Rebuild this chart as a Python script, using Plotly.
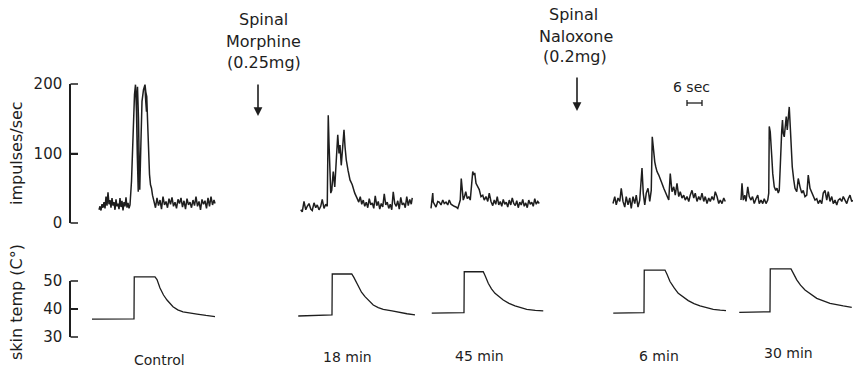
import plotly.graph_objects as go

# ------------------------------------------------------------------
# DATA  (time in seconds relative to heat-stimulus onset of each test)
# ------------------------------------------------------------------
panel_labels = ["Control", "18 min", "45 min", "6 min", "30 min"]

# discharge rate (impulses/sec)
control_rate_t = [-14.0, -13.6, -13.2, -12.8, -12.4, -12.0, -11.6, -11.2, -10.8, -10.4,
                  -10.0, -9.6, -9.2, -8.8, -8.4, -8.0, -7.6, -7.2, -6.8, -6.4,
                  -6.0, -5.6, -5.2, -4.8, -4.4, -4.0, -3.6, -3.2, -2.8, -2.4,
                  -2.0, -1.6, -1.0, -0.4, 0.2, 0.6, 1.0, 1.3, 1.5, 1.7,
                  1.1, 1.0, 1.4, 1.8, 2.1, 2.3, 2.8, 3.2, 3.8, 4.4,
                  4.8, 5.0, 4.7, 4.4, 5.1, 5.4, 5.8, 6.2, 6.6, 7.0,
                  7.4, 7.8, 8.0, 8.6, 9.2, 9.8, 10.4, 11.0, 11.6, 12.2,
                  12.8, 13.4, 14.0, 14.6, 15.2, 15.8, 16.4, 17.0, 17.6, 18.2,
                  18.8, 19.4, 20.0, 20.6, 21.2, 21.8, 22.4, 23.0, 23.6, 24.2,
                  24.8, 25.4, 26.0, 26.6, 27.2, 27.8, 28.4, 29.0, 29.6, 30.2,
                  30.8, 31.4, 32.0, 32.4]
control_rate_v = [19, 24, 18, 27, 22, 30, 21, 38, 25, 44,
                  27, 33, 22, 36, 25, 30, 19, 34, 24, 28,
                  20, 36, 23, 32, 18, 30, 24, 37, 22, 29,
                  21, 26, 60, 140, 185, 199, 160, 100, 55, 45,
                  120, 170, 196, 150, 80, 48, 120, 175, 192, 199,
                  186, 160, 175, 194, 182, 150, 105, 70, 55, 50,
                  40, 32, 30, 22, 36, 25, 33, 20, 38, 26,
                  31, 22, 35, 27, 37, 24, 30, 21, 34, 28,
                  36, 23, 32, 20, 35, 26, 30, 22, 33, 25,
                  38, 24, 31, 19, 34, 27, 32, 21, 36, 24,
                  38, 26, 33, 28]

min18_rate_t = [-12.5, -11.9, -11.2, -10.5, -9.9, -9.2, -8.5, -7.9, -7.2, -6.5,
                -5.9, -5.2, -4.5, -3.9, -3.2, -2.5, -1.9, -1.5, -1.2, -0.8,
                -0.5, -0.1, 0.5, 1.1, 1.9, 2.3, 2.8, 3.2, 3.7, 4.3,
                4.8, 5.2, 5.7, 6.4, 7.2, 8.1, 9.1, 10.1, 10.7, 11.3,
                11.9, 12.5, 13.1, 13.7, 14.3, 14.9, 15.5, 16.1, 16.7, 17.3,
                17.9, 18.5, 19.1, 19.7, 20.3, 20.9, 21.5, 22.1, 22.7, 23.3,
                23.9, 24.5, 25.1, 25.7, 26.3, 26.9, 27.5, 28.1, 28.7, 29.3,
                29.9, 30.5, 31.1, 31.7, 32.1]
min18_rate_v = [19, 16, 31, 19, 24, 28, 20, 18, 29, 22,
                26, 19, 24, 34, 21, 27, 24, 155, 115, 67,
                43, 47, 74, 52, 105, 127, 100, 112, 83, 117,
                134, 110, 91, 76, 62, 55, 43, 35, 30, 38,
                27, 33, 24, 30, 22, 35, 26, 29, 21, 39,
                25, 31, 20, 28, 23, 42, 26, 30, 21, 27,
                19, 45, 28, 24, 32, 20, 37, 26, 29, 22,
                38, 25, 34, 27, 36]

min45_rate_t = [-13.2, -12.5, -12.3, -11.9, -11.2, -10.5, -9.9, -9.2, -8.5, -7.9,
                -7.2, -6.5, -5.9, -5.2, -4.5, -3.9, -3.2, -2.5, -1.9, -1.5,
                -1.1, -0.7, -0.3, 0.2, 0.7, 1.3, 1.9, 2.5, 3.5, 3.9,
                4.3, 4.8, 5.5, 6.1, 6.8, 7.5, 8.1, 8.8, 9.5, 10.1,
                10.8, 11.5, 12.1, 12.7, 13.3, 13.9, 14.5, 15.1, 15.7, 16.3,
                16.9, 17.5, 18.1, 18.7, 19.3, 19.9, 20.5, 21.1, 21.7, 22.3,
                22.9, 23.5, 24.1, 24.7, 25.3, 25.9, 26.5, 27.1, 27.7, 28.3,
                28.9, 29.5, 30.1]
min45_rate_v = [21, 43, 30, 28, 23, 31, 30, 26, 33, 28,
                30, 26, 33, 27, 26, 24, 23, 21, 28, 33,
                64, 48, 33, 38, 45, 35, 38, 33, 74, 69,
                72, 57, 52, 48, 38, 40, 33, 38, 31, 43,
                31, 25, 33, 27, 38, 26, 31, 24, 34, 27,
                30, 23, 33, 26, 36, 28, 25, 32, 22, 30,
                26, 34, 24, 29, 22, 33, 27, 30, 24, 35,
                27, 31, 28]

min6_rate_t = [-12.4, -11.7, -11.1, -10.4, -9.7, -9.1, -8.4, -7.7, -7.1, -6.4,
               -5.7, -5.1, -4.4, -3.7, -3.1, -2.4, -1.7, -0.8, -0.3, 0.3,
               0.9, 1.6, 2.3, 2.9, 3.3, 3.9, 4.3, 4.7, 5.2, 5.9,
               6.5, 7.2, 7.9, 8.5, 9.2, 9.9, 10.5, 11.2, 11.9, 12.5,
               13.2, 13.9, 14.5, 15.2, 15.9, 16.5, 17.2, 17.9, 18.5, 19.2,
               19.9, 20.5, 21.2, 21.9, 22.5, 23.2, 23.9, 24.5, 25.2, 25.9,
               26.5, 27.2, 27.9, 28.5, 29.2, 29.9, 30.5, 31.2, 31.9, 32.5]
min6_rate_v = [28, 38, 26, 36, 31, 50, 31, 23, 38, 26,
               36, 21, 38, 28, 40, 23, 33, 79, 43, 26,
               43, 50, 31, 47, 124, 95, 88, 81, 74, 69,
               62, 57, 50, 45, 38, 33, 71, 45, 52, 40,
               57, 38, 45, 36, 40, 33, 38, 31, 40, 47,
               36, 43, 31, 38, 33, 43, 31, 38, 28, 36,
               31, 38, 33, 45, 38, 28, 33, 28, 36, 31]

min30_rate_t = [-11.6, -11.2, -10.7, -10.1, -9.6, -8.9, -8.3, -7.6, -7.0, -6.3,
                -5.6, -4.9, -4.3, -3.6, -2.9, -2.3, -1.6, -0.9, -0.5, -0.3,
                0.1, 0.4, 0.7, 1.1, 1.7, 2.3, 2.8, 3.3, 3.7, 4.1,
                4.3, 4.7, 5.0, 5.3, 5.7, 6.1, 6.5, 6.9, 7.3, 7.7,
                8.1, 8.5, 8.9, 9.5, 10.0, 10.7, 11.3, 12.0, 12.7, 13.3,
                14.0, 14.7, 15.3, 16.0, 16.7, 17.3, 18.0, 18.7, 19.3, 20.0,
                20.7, 21.3, 22.0, 22.7, 23.3, 24.0, 24.7, 25.3, 26.0, 26.7,
                27.3, 28.0, 28.7, 29.3, 30.0, 30.7, 31.3, 32.0, 32.7, 33.1]
min30_rate_v = [33, 57, 33, 40, 31, 52, 38, 33, 38, 28,
                35, 40, 28, 33, 28, 35, 28, 33, 43, 139,
                131, 119, 96, 71, 52, 47, 50, 43, 47, 81,
                105, 134, 148, 129, 124, 143, 153, 134, 158, 167,
                139, 100, 81, 62, 50, 45, 64, 52, 43, 47,
                38, 40, 69, 50, 43, 38, 33, 35, 28, 33,
                28, 43, 47, 33, 45, 31, 38, 28, 33, 26,
                33, 35, 31, 38, 33, 28, 35, 40, 31, 33]

# skin temperature (deg C)
control_temp_t = [-16.8, 0.0, 0.1, 8.4, 9.2, 10.4, 11.8, 13.2, 15.6, 17.5, 19.6, 22.5, 25.2, 28.8, 32.4]
control_temp_v = [36.4, 36.5, 51.5, 51.5, 50.5, 47.5, 45.0, 43.2, 40.8, 39.7, 39.0, 38.5, 38.2, 37.7, 37.3]
min18_temp_t = [-13.5, 0.0, 0.1, 7.9, 8.8, 10.5, 11.8, 13.2, 16.5, 18.5, 20.5, 24.0, 27.2, 30.0, 33.2]
min18_temp_v = [37.5, 37.9, 52.5, 52.5, 51.2, 48.0, 46.0, 44.4, 41.4, 40.5, 39.9, 39.3, 38.7, 38.3, 37.9]
min45_temp_t = [-12.9, 0.0, 0.1, 7.7, 8.5, 9.7, 11.0, 12.4, 15.7, 18.0, 20.4, 25.1, 28.5, 31.7]
min45_temp_v = [38.5, 38.7, 53.3, 53.3, 51.8, 49.2, 47.2, 45.6, 43.2, 42.0, 41.1, 39.9, 39.5, 39.3]
min6_temp_t = [-12.3, 0.0, 0.1, 8.4, 9.2, 10.4, 12.0, 13.7, 17.7, 20.0, 22.4, 27.7, 30.5, 32.8]
min6_temp_v = [38.5, 38.7, 53.9, 53.9, 52.4, 49.8, 47.6, 45.6, 43.0, 41.9, 41.1, 39.9, 39.6, 39.4]
min30_temp_t = [-12.3, 0.0, 0.1, 8.4, 9.3, 10.7, 12.2, 14.0, 18.7, 21.3, 24.0, 29.3, 32.7]
min30_temp_v = [38.8, 39.0, 54.3, 54.3, 52.8, 50.4, 48.5, 46.8, 43.8, 42.8, 42.0, 41.1, 40.6]

rate_ticks = [0, 100, 200]
temp_ticks = [30, 40, 50]
scale_bar_sec = 6

# ------------------------------------------------------------------
# LAYOUT CONSTANTS (pixels of the 853 x 372 page)
# ------------------------------------------------------------------
W, H = 853, 372
ML = 71
PLOT_W = W - ML
PX_PER_SEC = 2.5
FONT = "DejaVu Sans"
INK = "#1e1e1e"
TICK_LEN = 7

def xs(px):      # page pixel -> seconds on the shared x axis
    return (px - ML) / PX_PER_SEC

def xp(px):      # page pixel -> paper x
    return (px - ML) / PLOT_W

def yp(py):      # page pixel -> paper y
    return (H - py) / H

onset_px = [134, 332, 464, 644, 770]
label_pos = [(159, 360), (347, 357), (479, 356), (659, 356), (788, 353)]

R0_PY, R200_PY = 223, 84
r_ppu = (R0_PY - R200_PY) / 200.0
r_lo, r_hi = -20, 230
T30_PY, T50_PY = 337, 281
t_ppu = (T30_PY - T50_PY) / 20.0
t_lo, t_hi = 28, 58

rates = [(control_rate_t, control_rate_v), (min18_rate_t, min18_rate_v),
         (min45_rate_t, min45_rate_v), (min6_rate_t, min6_rate_v),
         (min30_rate_t, min30_rate_v)]
temps = [(control_temp_t, control_temp_v), (min18_temp_t, min18_temp_v),
         (min45_temp_t, min45_temp_v), (min6_temp_t, min6_temp_v),
         (min30_temp_t, min30_temp_v)]

fig = go.Figure()

fig.add_trace(go.Scatter(x=[], y=[], xaxis="x", yaxis="y", showlegend=False))
fig.add_trace(go.Scatter(x=[], y=[], xaxis="x", yaxis="y2", showlegend=False))

for (t, v), o in zip(rates, onset_px):
    fig.add_trace(go.Scatter(x=[xs(o) + ti for ti in t], y=v, xaxis="x", yaxis="y4",
                             mode="lines", line=dict(color=INK, width=1.5),
                             showlegend=False, hoverinfo="skip"))
for (t, v), o in zip(temps, onset_px):
    fig.add_trace(go.Scatter(x=[xs(o) + ti for ti in t], y=v, xaxis="x", yaxis="y3",
                             mode="lines", line=dict(color=INK, width=1.3),
                             showlegend=False, hoverinfo="skip"))

bracket = dict(showline=True, linecolor=INK, linewidth=1.5, ticks="inside",
               ticklen=TICK_LEN, tickwidth=1.5, tickcolor=INK, showgrid=False,
               zeroline=False, anchor="x", fixedrange=True, automargin=False,
               ticklabelstandoff=4,
               tickfont=dict(family=FONT, size=15, color=INK))

fig.update_layout(
    template="none",
    width=W, height=H,
    margin=dict(l=ML, r=0, t=0, b=0, pad=0, autoexpand=False),
    paper_bgcolor="white", plot_bgcolor="rgba(0,0,0,0)",
    xaxis=dict(range=[0, PLOT_W / PX_PER_SEC], visible=False, domain=[0, 1],
               anchor="y", automargin=False),
    yaxis=dict(range=[0, 200], tickvals=rate_ticks,
               domain=[yp(R0_PY), yp(R200_PY)], **bracket),
    yaxis2=dict(range=[30, 50], tickvals=temp_ticks,
                domain=[yp(T30_PY), yp(T50_PY)], **bracket),
    yaxis3=dict(range=[t_lo, t_hi], visible=False, anchor="x", automargin=False,
                domain=[yp(T30_PY + (30 - t_lo) * t_ppu), yp(T50_PY - (t_hi - 50) * t_ppu)]),
    yaxis4=dict(range=[r_lo, r_hi], visible=False, anchor="x", automargin=False,
                domain=[yp(R0_PY + (0 - r_lo) * r_ppu), yp(R200_PY - (r_hi - 200) * r_ppu)]),
    showlegend=False,
)

ann = []
def text(s, px, py, size=15, angle=0):
    ann.append(dict(text=s, x=xp(px), y=yp(py), xref="paper", yref="paper",
                    showarrow=False, xanchor="center", yanchor="middle",
                    textangle=angle, font=dict(family=FONT, size=size, color=INK)))

for lab, (px, py) in zip(panel_labels, label_pos):
    text(lab, px, py, 14)

text("Spinal", 263, 20, 16)
text("Morphine", 263, 41, 16)
text("(0.25mg)", 264, 63, 16)
text("Spinal", 573, 15, 16)
text("Naloxone", 576, 36, 16)
text("(0.2mg)", 575, 57, 16)
text("6 sec", 691, 87, 14)
text("impulses/sec", 16, 153, 16, -90)
text("skin temp (C°)", 16, 302, 16, -90)

for px, tip, tail in [(258, 116, 83), (577, 111, 76)]:
    ann.append(dict(text="", x=xp(px), y=yp(tip), xref="paper", yref="paper",
                    ax=0, ay=-(tip - tail), showarrow=True, arrowhead=2,
                    arrowsize=1.1, arrowwidth=1.6, arrowcolor=INK))
fig.update_layout(annotations=ann)

bar_x0 = xs(687)
bar_y = yp(103)
cap = 3 / H
line_style = dict(color=INK, width=1.3)
shapes = [
    dict(type="line", xref="x", yref="paper", x0=bar_x0, x1=bar_x0 + scale_bar_sec,
         y0=bar_y, y1=bar_y, line=line_style),
    dict(type="line", xref="x", yref="paper", x0=bar_x0, x1=bar_x0,
         y0=bar_y - cap, y1=bar_y + cap, line=line_style),
    dict(type="line", xref="x", yref="paper", x0=bar_x0 + scale_bar_sec, x1=bar_x0 + scale_bar_sec,
         y0=bar_y - cap, y1=bar_y + cap, line=line_style),
]
# bracket tick marks pointing right (same linear scales as the bracket axes)
tick_sets = [(rate_ticks, lambda v: R0_PY - v * r_ppu),
             (temp_ticks, lambda v: T30_PY - (v - 30) * t_ppu)]
for vals, to_py in tick_sets:
    for v in vals:
        y = yp(to_py(v))
        shapes.append(dict(type="line", xref="paper", yref="paper",
                           x0=xp(ML - 0.5), x1=xp(ML + TICK_LEN),
                           y0=y, y1=y, line=dict(color=INK, width=1.5)))
fig.update_layout(shapes=shapes)

fig.write_html("out.html", config={"displayModeBar": False},
               post_script="document.body.style.margin='0';document.body.style.overflow='hidden';")
